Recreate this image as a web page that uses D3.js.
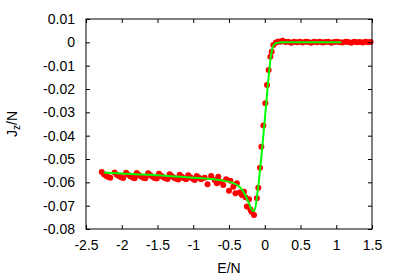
<!DOCTYPE html>
<html><head><meta charset="utf-8">
<script src="https://cdn.jsdelivr.net/npm/d3@7"></script>
<style>body{margin:0;background:#fff}svg{display:block}text{font-family:"Liberation Sans",Arial,sans-serif;font-size:14px;fill:#000}</style>
</head><body><svg id="c" width="400" height="280"></svg>
<script>
const xTicks = [-2.5, -2, -1.5, -1, -0.5, 0, 0.5, 1, 1.5];
const yTicks = [0.01, 0, -0.01, -0.02, -0.03, -0.04, -0.05, -0.06, -0.07, -0.08];

// red data points (E/N)
const dotE = [
 -2.28,-2.25,-2.22,-2.19,-2.16,
 -2.10,-2.07,-2.04,-2.01,-1.98,
 -1.94,-1.91,-1.88,-1.85,-1.82,
 -1.79,-1.76,-1.73,-1.70,-1.67,
 -1.63,-1.60,-1.57,-1.54,-1.51,
 -1.48,-1.45,-1.42,-1.39,-1.36,
 -1.33,-1.30,-1.27,-1.24,-1.21,
 -1.19,-1.16,-1.13,-1.10,
 -1.07,-1.04,-1.01,-0.98,
 -0.95,-0.92,-0.89,-0.84,-0.80,-0.75,-0.70,-0.67,-0.65,-0.62,-0.58,-0.54,-0.50,-0.48,-0.44,-0.41,-0.39,-0.35,-0.32,-0.29,-0.27,-0.25,-0.22,-0.20,-0.186,-0.15,
 -0.11,-0.09,-0.066,-0.047,-0.019,0.008,0.032,0.055,0.078,0.097,0.12,0.157,0.19,0.22,0.25,
 0.29,0.33,0.37,0.41,0.45,0.49,0.53,0.57,0.61,0.65,0.69,0.73,0.77,0.81,0.85,0.89,0.93,0.97,1.01,1.05,1.09,1.13,1.17,1.21,1.25,1.29,1.33,1.37,1.41,1.45,1.48
];
// red data points (J_z/N)
const dotJ = [
 -0.0556,-0.0565,-0.0572,-0.0577,-0.0580,
 -0.0558,-0.0567,-0.0573,-0.0578,-0.0581,
 -0.0559,-0.0568,-0.0574,-0.0579,-0.0582,
 -0.0560,-0.0569,-0.0575,-0.0580,-0.0583,
 -0.0561,-0.0570,-0.0576,-0.0581,-0.0584,
 -0.0563,-0.0572,-0.0578,-0.0583,-0.0586,
 -0.0565,-0.0574,-0.0580,-0.0585,-0.0588,
 -0.0567,-0.0576,-0.0582,-0.0587,
 -0.0570,-0.0578,-0.0585,-0.0590,
 -0.0573,-0.0580,-0.0587,-0.0580,-0.0608,-0.0573,-0.0590,-0.0604,-0.0576,-0.0598,-0.0611,-0.0587,-0.0636,-0.0593,-0.0619,-0.0647,-0.0604,-0.0644,-0.0654,-0.0640,-0.0664,-0.0704,-0.0672,-0.0716,-0.0726,-0.0740,
 -0.0668,-0.0623,-0.0537,-0.0447,-0.0356,-0.0261,-0.0183,-0.0119,-0.0062,-0.0040,-0.0011,-0.0001,0.0004,0.0002,0.0007,
 0.0001,0.0003,-0.0002,0.0002,0.0000,0.0003,-0.0001,0.0002,0.0001,-0.0002,0.0002,0.0000,0.0003,-0.0001,0.0001,0.0002,-0.0002,0.0001,0.0003,0.0000,-0.0001,0.0002,0.0001,-0.0002,0.0002,0.0000,0.0001,-0.0001,0.0002,0.0000,0.0001
];

// green fit curve
const fitE = [-2.25,-2.0,-1.75,-1.5,-1.25,-1.0,-0.8,-0.6,-0.45,-0.35,-0.28,-0.22,-0.17,-0.145,-0.10,-0.06,-0.02,0.02,0.06,0.09,0.12,0.16,0.25,1.07];
const fitJ = [-0.0558,-0.0562,-0.0566,-0.0570,-0.0575,-0.0580,-0.0585,-0.0592,-0.0602,-0.0620,-0.0650,-0.0690,-0.0722,-0.0722,-0.0640,-0.0530,-0.0400,-0.0265,-0.0130,-0.0050,-0.0015,-0.0003,0.0,0.0];

const svg = d3.select("#c");
const L = 86, R = 372, T = 19, B = 229;
const x = d3.scaleLinear().domain([-2.5, 1.5]).range([L, R]);
const y = d3.scaleLinear().domain([-0.08, 0.01]).range([B, T]);

// dots
svg.append("g").selectAll("circle").data(dotE.map((e,i)=>[e,dotJ[i]])).join("circle")
  .attr("cx", d=>x(d[0])).attr("cy", d=>y(d[1])).attr("r", 3).attr("fill", "#ff0000");

// fit line
svg.append("path").datum(fitE.map((e,i)=>[e,fitJ[i]]))
  .attr("d", d3.line().x(d=>x(d[0])).y(d=>y(d[1])).curve(d3.curveMonotoneX))
  .attr("fill","none").attr("stroke","#00ff00").attr("stroke-width",2);

// axes (inward ticks, mirrored)
const tl = 4;
const fmt = d => d3.format("")(d).replace("−","-");
const gx = svg.append("g").attr("transform",`translate(0,${B})`)
  .call(d3.axisBottom(x).tickValues(xTicks).tickSizeInner(-tl).tickSizeOuter(0).tickPadding(11).tickFormat(fmt));
const gx2 = svg.append("g").attr("transform",`translate(0,${T})`)
  .call(d3.axisTop(x).tickValues(xTicks).tickSizeInner(-tl).tickSizeOuter(0).tickFormat(""));
const gy = svg.append("g").attr("transform",`translate(${L},0)`)
  .call(d3.axisLeft(y).tickValues(yTicks).tickSizeInner(-tl).tickSizeOuter(0).tickPadding(11).tickFormat(fmt));
const gy2 = svg.append("g").attr("transform",`translate(${R},0)`)
  .call(d3.axisRight(y).tickValues(yTicks).tickSizeInner(-tl).tickSizeOuter(0).tickFormat(""));
[gx,gx2,gy,gy2].forEach(g=>{
  g.select(".domain").remove();
  g.selectAll("text").attr("font-family",null).attr("font-size",null).attr("fill","#000");
  g.selectAll("line").attr("stroke","#000");
});

svg.append("rect").attr("x",L).attr("y",T).attr("width",R-L).attr("height",B-T)
  .attr("fill","none").attr("stroke","#000").attr("stroke-width",1);

// axis titles
svg.append("text").attr("x",(L+R)/2).attr("y",273).attr("text-anchor","middle").text("E/N");
const yl = svg.append("text").attr("transform",`translate(17,${(T+B)/2}) rotate(-90)`).attr("text-anchor","middle");
yl.append("tspan").text("J");
yl.append("tspan").attr("dy",3).attr("font-size","10px").text("z");
yl.append("tspan").attr("dy",-3).text("/N");
</script></body></html>
